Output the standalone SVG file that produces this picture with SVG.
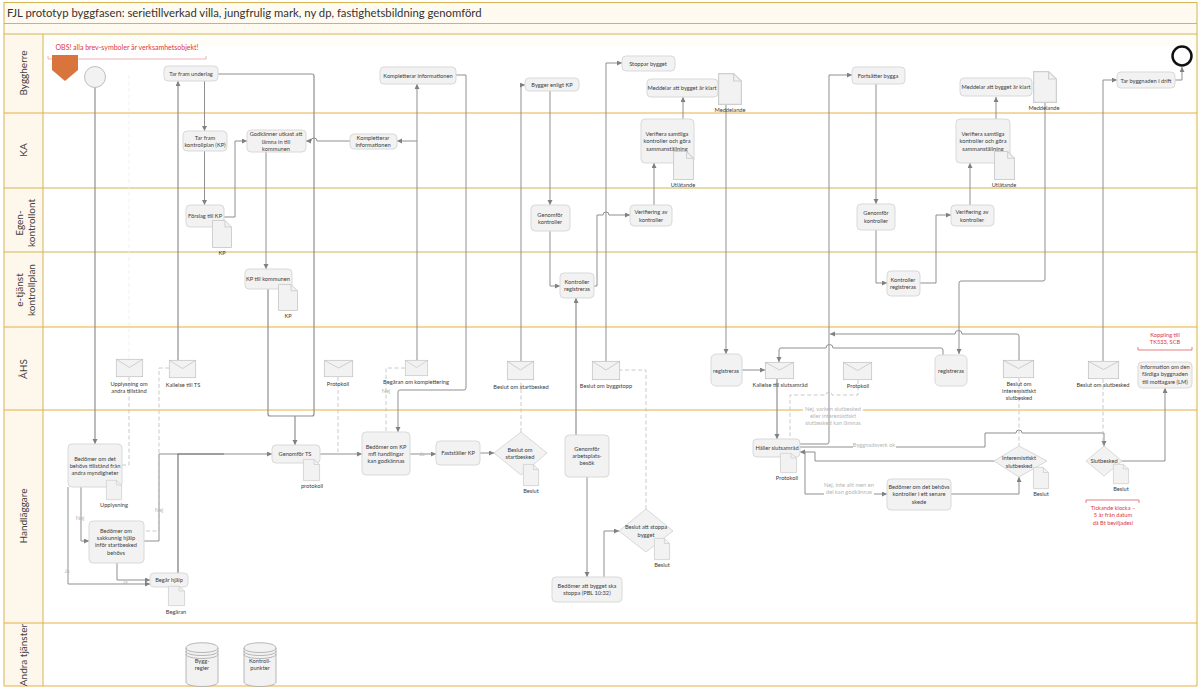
<svg xmlns="http://www.w3.org/2000/svg" width="1200" height="690" viewBox="0 0 1200 690">
<style>
text{font-family:"Lato","Liberation Sans",sans-serif;font-size:5.700px;fill:#404040;text-anchor:middle}
.lane{font-size:10px;fill:#404040}
.title{font-size:11.300px;text-anchor:start;fill:#333}
.red{fill:#e0343f}
.obs{font-size:7px}
.gr{fill:#b5b5b5}
.b{fill:#f2f2f2;stroke:#d9d9d9;stroke-width:1}
.env{fill:#f2f2f2;stroke:#bfbfbf;stroke-width:.7}
.line{fill:none;stroke:#8f8f8f;stroke-width:1}
.thick{fill:none;stroke:#8f8f8f;stroke-width:1.200}
.dark{fill:none;stroke:#777;stroke-width:1.200}
.dash{fill:none;stroke:#bdbdbd;stroke-width:.8;stroke-dasharray:4 2.500}
.faint{fill:none;stroke:#eeeeee;stroke-width:.8;stroke-dasharray:4 2.500}
.g{fill:none;stroke:#d4b455;stroke-width:1}
.o{fill:none;stroke:#e8ae45;stroke-width:1}
.cyl{fill:#f2f2f2;stroke:#a6a6a6;stroke-width:.8}
.cyl2{fill:none;stroke:#a6a6a6;stroke-width:.8}
.rl{fill:none;stroke:#d6474f;stroke-width:.7}
.wh{fill:#fff}
</style>
<defs>
<marker id="a" markerWidth="7" markerHeight="6" refX="5" refY="2.500" orient="auto" markerUnits="userSpaceOnUse"><path d="M0 0L5 2.500L0 5z" fill="#808080"/></marker>
<symbol id="doc" viewBox="0 0 20 28" preserveAspectRatio="none" overflow="visible"><path d="M.5.5H13L19.5 7V27.5H.5z" fill="#f2f2f2" stroke="#cfcfcf"/><path d="M13 .5V7H19.5" fill="none" stroke="#cfcfcf"/></symbol>
<symbol id="mail" viewBox="0 0 28 18" preserveAspectRatio="none" overflow="visible"><rect x=".3" y=".3" width="27.4" height="17.4" class="env"/><path d="M.3 .3L14 8.5L27.7 .3" fill="none" stroke="#bfbfbf" stroke-width=".7"/></symbol>
</defs>
<rect width="1200" height="690" fill="#fff"/>
<g id="pool">
<rect x="4" y="2" width="1193" height="32" fill="#fffaf0"/>
<rect x="4" y="34" width="1193" height="12" fill="#fffdf8"/>
<rect x="4" y="34" width="39" height="652" fill="#fef7ec"/>
<rect x="1194" y="34" width="3" height="652" fill="#fffdf0"/>
<rect x="43" y="323" width="1151" height="4" fill="#fdfdf2"/>
<path class="g" d="M4 2.500H1197M4 23.500H1197M4 34H1197M4 2V686M1197 2V686M43 34V686M4 252H1197M4 188H1197"/>
<path class="o" d="M4 113H1197M4 327H1197M4 410H1197M4 623H1197M4 686H1197"/>
<rect class="wh" x="803" y="407" width="60" height="5"/>
</g>
<text class="title" x="7" y="17">FJL prototyp byggfasen: serietillverkad villa, jungfrulig mark, ny dp, fastighetsbildning genomförd</text>
<g id="lanes">
<text class="lane" transform="translate(27 73) rotate(-90)">Byggherre</text>
<text class="lane" transform="translate(27 150) rotate(-90)">KA</text>
<text class="lane" transform="translate(23 223) rotate(-90)">Egen-<tspan x="0" dy="12">kontrollont</tspan></text>
<text class="lane" transform="translate(23 290) rotate(-90)">e-tjänst<tspan x="0" dy="12">kontrollplan</tspan></text>
<text class="lane" transform="translate(27 369) rotate(-90)">ÅHS</text>
<text class="lane" transform="translate(27 516) rotate(-90)">Handläggare</text>
<text class="lane" transform="translate(27 655) rotate(-90)">Andra tjänster</text>
</g>
<g id="connectors">
<path class="faint" d="M129 75V359"/>
<path class="thick" marker-end="url(#a)" d="M95 87V444"/>
<path class="line" marker-end="url(#a)" d="M204.500 81V131"/>
<path class="line" marker-end="url(#a)" d="M204.500 151V205"/>
<path class="thick" d="M218 74H312Q314 74 314 76V414Q314 416 312 416H270Q268 416 268 414V289"/>
<path class="thick" marker-end="url(#a)" d="M295 416V445"/>
<path class="thick" marker-end="url(#a)" d="M178 360V81"/>
<path class="line" marker-end="url(#a)" d="M224 217H235V141H247"/>
<path class="line" marker-end="url(#a)" d="M266 152V269"/>
<path class="line" marker-end="url(#a)" d="M350 141H317a3 3 0 0 0 -6 0H306"/>
<path class="line" marker-end="url(#a)" d="M417 360V84"/>
<path class="line" marker-end="url(#a)" d="M417 141H397"/>
<path class="line" marker-end="url(#a)" d="M456 75H466V388Q466 390 464 390H400Q398 390 398 392V432"/>
<path class="line" marker-end="url(#a)" d="M521 361V85H525"/>
<path class="line" marker-end="url(#a)" d="M550 91V205"/>
<path class="line" marker-end="url(#a)" d="M550 231V286H560"/>
<path class="line" marker-end="url(#a)" d="M594 286H597V215H603a3 3 0 0 1 6 0H630"/>
<path class="line" marker-end="url(#a)" d="M606 361V63H622"/>
<path class="line" marker-end="url(#a)" d="M654 205V163"/>
<path class="line" marker-end="url(#a)" d="M683 119V97"/>
<path class="line" marker-end="url(#a)" d="M726 105V354"/>
<path class="thick" marker-end="url(#a)" d="M576 435V298"/>
<path class="line" marker-end="url(#a)" d="M587 477V577"/>
<path class="line" marker-end="url(#a)" d="M604 577V531H619"/>
<path class="line" marker-end="url(#a)" d="M742 370H765"/>
<path class="line" marker-end="url(#a)" d="M943 355V350Q943 348 941 348H833a3.500 3.500 0 0 0 -7 0H781Q779 348 779 350V362"/>
<path class="line" marker-end="url(#a)" d="M1019 360V336Q1019 334 1017 334H962a3.500 3.500 0 0 0 -7 0H830"/>
<path class="line" marker-end="url(#a)" d="M1045 103V279Q1045 281 1043 281H961Q959 281 959 283V354"/>
<path class="line" marker-end="url(#a)" d="M800 444H827Q829 444 829 442V75H852"/>
<path class="line" marker-end="url(#a)" d="M876 84V204"/>
<path class="line" marker-end="url(#a)" d="M876 230V283H887"/>
<path class="line" marker-end="url(#a)" d="M920 283H936V215H951"/>
<path class="line" marker-end="url(#a)" d="M970 205V163"/>
<path class="line" marker-end="url(#a)" d="M996 119V97"/>
<path class="line" marker-end="url(#a)" d="M1103 361V80H1117"/>
<path class="line" marker-end="url(#a)" d="M1175 80H1182V67"/>
<path class="thick" marker-end="url(#a)" d="M777 379V439"/>
<path class="line" marker-end="url(#a)" d="M800 447H985V433H1016a3 3 0 0 1 6 0H1104V446"/>
<path class="line" marker-end="url(#a)" d="M994 461H815V452H800"/>
<path class="line" marker-end="url(#a)" d="M805 452V494H887"/>
<path class="line" marker-end="url(#a)" d="M951 494H1019V477"/>
<path class="line" marker-end="url(#a)" d="M1122 461H1165V388"/>
<path class="line" marker-end="url(#a)" d="M144 541H159V454H272"/>
<path class="dark" d="M178 573V454H224"/>
<path class="line" marker-end="url(#a)" d="M68 487V584H150"/>
<path class="line" marker-end="url(#a)" d="M81 487V541H89"/>
<path class="line" marker-end="url(#a)" d="M117 563V580H150"/>
<path class="thick" marker-end="url(#a)" d="M320 454H362"/>
<path class="line" marker-end="url(#a)" d="M410 454H436"/>
<path class="line" marker-end="url(#a)" d="M480 453H494"/>
<path class="dash" d="M129 377V465H122"/>
<path class="dash" d="M169 368H159V531H144"/>
<path class="dash" d="M338 377V452"/>
<path class="dash" d="M405 368H386V432"/>
<path class="dash" d="M521 432V380"/>
<path class="dash" d="M646 509V370H620"/>
<path class="dash" d="M858 380V395H832a3 3 0 0 0 -6 0H790V439"/>
<path class="dash" d="M1019 378V446"/>
<path class="dash" d="M1103 379V445"/>
</g>
<g id="connector-labels">
<text class="gr" x="833" y="411">Nej, varken slutbesked</text>
<text class="gr" x="833" y="418">eller interemistiskt</text>
<text class="gr" x="833" y="425">slutbesked kan lämnas</text>
<rect class="wh" x="853" y="441" width="43" height="8"/>
<text class="gr" x="874" y="447">Byggnadsverk ok</text>
<rect class="wh" x="824" y="481" width="50" height="15"/>
<text class="gr" x="849" y="487">Nej, inte allt men en</text>
<text class="gr" x="849" y="494">del kan godkännas</text>
<text class="gr" x="80" y="520">Nej</text>
<text class="gr" x="159" y="512">Nej</text>
<text class="gr" x="67" y="573">Ja</text>
<text class="gr" x="125" y="584">Ja</text>
<text class="gr" x="386" y="393">Nej</text>
<text class="gr" x="422" y="456">Ja</text>
</g>
<g id="obs"><text class="red obs" x="127" y="50">OBS! alla brev-symboler är verksamhetsobjekt!</text><path class="rl" d="M48 56V59H206V56" stroke-opacity=".6"/></g>
<g id="pentagon"><path d="M52 55H78V70L65 81L52 70z" fill="#d9743c"/></g>
<g id="start"><circle cx="95" cy="77" r="10.500" fill="#f2f2f2" stroke="#bfbfbf"/></g>
<g id="end"><circle cx="1182" cy="56" r="9.500" fill="#fff" stroke="#111" stroke-width="2.500"/></g>

<g id="n1"><rect class="b" x="164" y="66" width="54" height="15" rx="4"/><text x="191" y="76">Tar fram underlag</text></g>
<g id="n2"><rect class="b" x="183" y="131" width="44" height="20" rx="4"/><text x="205" y="140">Tar fram</text><text x="205" y="147">kontrollplan (KP)</text></g>
<g id="n3"><rect class="b" x="247" y="130" width="59" height="22" rx="4"/><text x="276" y="136">Godkänner utkast att</text><text x="276" y="144">lämna in till</text><text x="276" y="151">kommunen</text></g>
<g id="n4"><rect class="b" x="350" y="134" width="47" height="15" rx="4"/><text x="373" y="140">Kompletterar</text><text x="373" y="147">informationen</text></g>
<g id="n5"><rect class="b" x="186" y="205" width="38" height="22" rx="4"/><text x="205" y="218">Förslag till KP</text><use href="#doc" x="212" y="220" width="20" height="28"/><text x="222" y="255">KP</text></g>
<g id="n6"><rect class="b" x="245" y="269" width="47" height="20" rx="4"/><text x="268" y="281">KP till kommunen</text><use href="#doc" x="278" y="284" width="20" height="27"/><text x="288" y="318">KP</text></g>
<g id="n7"><rect class="b" x="380" y="67" width="76" height="17" rx="4"/><text x="418" y="78">Kompletterar informationen</text></g>
<g id="n8"><rect class="b" x="525" y="78" width="54" height="13" rx="4"/><text x="552" y="87">Bygger enligt KP</text></g>
<g id="n9"><rect class="b" x="622" y="56" width="53" height="15" rx="4"/><text x="648" y="66">Stoppar bygget</text></g>
<g id="n10"><rect class="b" x="647" y="79" width="71" height="18" rx="4"/><text x="682" y="90">Meddelar att bygget är klart</text><use href="#doc" x="718" y="73" width="24" height="32"/><text x="730" y="112">Meddelande</text></g>
<g id="n11"><rect class="b" x="641" y="119" width="53" height="44" rx="4"/><text x="667" y="136">Verifiera samtliga</text><text x="667" y="143">kontroller och göra</text><text x="667" y="151">sammanställning</text><use href="#doc" x="673" y="151" width="21" height="29"/><text x="683" y="187">Utlåtande</text></g>
<g id="n12"><rect class="b" x="531" y="205" width="39" height="26" rx="4"/><text x="550" y="217">Genomför</text><text x="550" y="224">kontroller</text></g>
<g id="n13"><rect class="b" x="630" y="205" width="42" height="21" rx="4"/><text x="651" y="214">Verifiering av</text><text x="651" y="222">kontroller</text></g>
<g id="n14"><rect class="b" x="560" y="273" width="34" height="25" rx="4"/><text x="577" y="284">Kontroller</text><text x="577" y="291">registreras</text></g>
<g id="n15"><rect class="b" x="852" y="67" width="53" height="17" rx="4"/><text x="878" y="78">Fortsätter bygga</text></g>
<g id="n16"><rect class="b" x="960" y="78" width="72" height="18" rx="4"/><text x="996" y="89">Meddelar att bygget är klart</text><use href="#doc" x="1033" y="71" width="24" height="32"/><text x="1044" y="110">Meddelande</text></g>
<g id="n17"><rect class="b" x="956" y="119" width="54" height="44" rx="4"/><text x="983" y="136">Verifiera samtliga</text><text x="983" y="143">kontroller och göra</text><text x="983" y="151">sammanställning</text><use href="#doc" x="994" y="151" width="21" height="29"/><text x="1004" y="187">Utlåtande</text></g>
<g id="n18"><rect class="b" x="857" y="204" width="38" height="26" rx="4"/><text x="876" y="215">Genomför</text><text x="876" y="223">kontroller</text></g>
<g id="n19"><rect class="b" x="951" y="205" width="43" height="21" rx="4"/><text x="972" y="214">Verifiering av</text><text x="972" y="222">kontroller</text></g>
<g id="n20"><rect class="b" x="887" y="271" width="33" height="25" rx="4"/><text x="903" y="282">Kontroller</text><text x="903" y="289">registreras</text></g>
<g id="n21"><rect class="b" x="1117" y="72" width="58" height="16" rx="4"/><text x="1146" y="83">Tar byggnaden i drift</text></g>

<g id="m1"><use href="#mail" x="116" y="359" width="27" height="18"/><text x="129" y="386">Upplysning om</text><text x="129" y="393">andra tillstånd</text></g>
<g id="m2"><use href="#mail" x="169" y="360" width="27" height="18"/><text x="183" y="387">Kallelse till TS</text></g>
<g id="m3"><use href="#mail" x="324" y="360" width="29" height="17"/><text x="338" y="386">Protokoll</text></g>
<g id="m4"><use href="#mail" x="405" y="360" width="23" height="16"/><text x="416" y="384">Begäran om komplettering</text></g>
<g id="m5"><use href="#mail" x="507" y="361" width="27" height="19"/><text x="521" y="389">Beslut om startbesked</text></g>
<g id="m6"><use href="#mail" x="592" y="361" width="28" height="19"/><text x="606" y="388">Beslut om byggstopp</text></g>
<g id="n22"><rect class="b" x="711" y="354" width="31" height="32" rx="5"/><text x="726" y="373">registreras</text></g>
<g id="m7"><use href="#mail" x="765" y="362" width="29" height="17"/><text x="780" y="387">Kallelse till slutsamråd</text></g>
<g id="m8"><use href="#mail" x="843" y="362" width="29" height="18"/><text x="858" y="388">Protokoll</text></g>
<g id="n23"><rect class="b" x="935" y="355" width="32" height="31" rx="5"/><text x="951" y="373">registreras</text></g>
<g id="m9"><use href="#mail" x="1003" y="360" width="31" height="18"/><text x="1019" y="386">Beslut om</text><text x="1019" y="393">interemistiskt</text><text x="1019" y="400">slutbesked</text></g>
<g id="m10"><use href="#mail" x="1088" y="361" width="31" height="18"/><text x="1103" y="387">Beslut om slutbesked</text></g>
<g id="n24"><rect class="b" x="1138" y="362" width="54" height="26" rx="4"/><text x="1165" y="369">Information om den</text><text x="1165" y="376">färdiga byggnaden</text><text x="1165" y="384">till mottagare (LM)</text></g>
<g id="koppling"><text class="red" x="1165" y="337">Koppling till</text><text class="red" x="1165" y="344">TK533, SCB</text><path class="rl" d="M1138 347V350H1192V347"/></g>

<g id="n25"><rect class="b" x="68" y="444" width="54" height="43" rx="4"/><text x="95" y="461">Bedömer om det</text><text x="95" y="468">behövs tillstånd från</text><text x="95" y="475">andra myndigheter</text><use href="#doc" x="106" y="480" width="16" height="20"/><text x="114" y="507">Upplysning</text></g>
<g id="n26"><rect class="b" x="89" y="521" width="55" height="42" rx="4"/><text x="116" y="533">Bedömer om</text><text x="116" y="540">sakkunnig hjälp</text><text x="116" y="547">inför startbesked</text><text x="116" y="555">behövs</text></g>
<g id="n27"><rect class="b" x="150" y="573" width="38" height="14" rx="4"/><text x="169" y="582">Begär hjälp</text><use href="#doc" x="168" y="586" width="17" height="20"/><text x="176" y="614">Begäran</text></g>
<g id="n28"><rect class="b" x="272" y="445" width="48" height="18" rx="4"/><text x="295" y="456">Genomför TS</text><use href="#doc" x="303" y="459" width="17" height="22"/><text x="312" y="488">protokoll</text></g>
<g id="n29"><rect class="b" x="362" y="432" width="48" height="43" rx="4"/><text x="386" y="449">Bedömer om KP</text><text x="386" y="456">mfl handlingar</text><text x="386" y="463">kan godkännas</text></g>
<g id="n30"><rect class="b" x="436" y="441" width="44" height="24" rx="4"/><text x="458" y="455">Fastställer KP</text></g>
<g id="n31"><path class="b" d="M494 453L521 432L547 453L521 475z"/><text x="520" y="452">Beslut om</text><text x="520" y="459">startbesked</text><use href="#doc" x="523" y="464" width="16" height="22"/><text x="531" y="493">Beslut</text></g>
<g id="n32"><rect class="b" x="565" y="435" width="44" height="42" rx="4"/><text x="587" y="451">Genomför</text><text x="587" y="458">arbetsplats-</text><text x="587" y="465">besök</text></g>
<g id="n33"><rect class="b" x="552" y="577" width="70" height="25" rx="4"/><text x="587" y="588">Bedömer att bygget ska</text><text x="587" y="595">stoppa (PBL 10:32)</text></g>
<g id="n34"><path class="b" d="M619 531L646 509L673 531L646 552z"/><text x="646" y="529">Beslut att stoppa</text><text x="646" y="537">bygget</text><use href="#doc" x="654" y="538" width="16" height="22"/><text x="662" y="567">Beslut</text></g>
<g id="n35"><rect class="b" x="753" y="439" width="47" height="18" rx="4"/><text x="777" y="450">Håller slutsamråd</text><use href="#doc" x="780" y="453" width="17" height="20"/><text x="787" y="480">Protokoll</text></g>
<g id="n36"><rect class="b" x="887" y="479" width="64" height="31" rx="4"/><text x="919" y="489">Bedömer om det behövs</text><text x="919" y="496">kontroller i ett senare</text><text x="919" y="504">skede</text></g>
<g id="n37"><path class="b" d="M994 461L1019 446L1047 461L1019 477z"/><text x="1019" y="460">Interemistiskt</text><text x="1019" y="468">slutbesked</text><use href="#doc" x="1033" y="467" width="16" height="22"/><text x="1041" y="496">Beslut</text></g>
<g id="n38"><path class="b" d="M1086 461L1104 446L1122 461L1104 476z"/><text x="1104" y="463">Slutbesked</text><use href="#doc" x="1113" y="464" width="16" height="20"/><text x="1121" y="491">Beslut</text></g>
<g id="klocka"><path class="rl" d="M1086 503V500H1139V503"/><text class="red" x="1113" y="510">Tickande klocka –</text><text class="red" x="1113" y="517">5 år från datum</text><text class="red" x="1113" y="525">då Bt beviljades!</text></g>

<g id="db1"><path class="cyl" d="M186 648C186 641 218 641 218 648V682C218 688 186 688 186 682z"/><path class="cyl2" d="M186 648C186 654 218 654 218 648M186 651C186 657 218 657 218 651M186 654C186 660 218 660 218 654"/><text x="202" y="663">Bygg-</text><text x="202" y="670">regler</text></g>
<g id="db2"><path class="cyl" d="M244 648C244 641 276 641 276 648V682C276 688 244 688 244 682z"/><path class="cyl2" d="M244 648C244 654 276 654 276 648M244 651C244 657 276 657 276 651M244 654C244 660 276 660 276 654"/><text x="260" y="663">Kontroll-</text><text x="260" y="670">punkter</text></g>
</svg>
